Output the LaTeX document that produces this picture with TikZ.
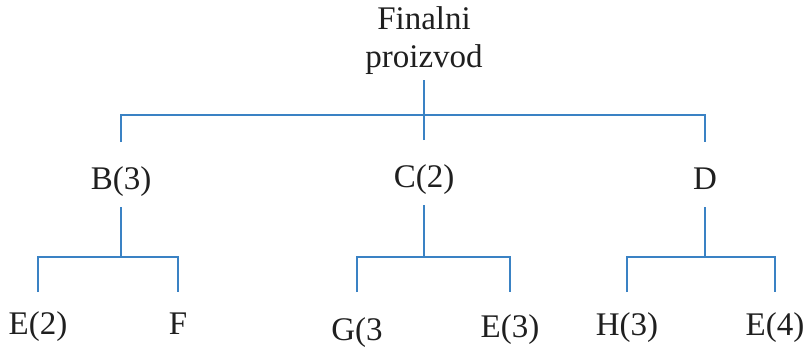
\documentclass[tikz,border=0pt]{standalone}
\usepackage{fontspec}
\setmainfont{Liberation Serif}
\usepackage{tikz}
\definecolor{treeblue}{RGB}{58,130,196}

\begin{document}
\begin{tikzpicture}[x=1pt, y=-1pt,
    font={\fontsize{33}{38}\selectfont}, text=black!88,
    branch/.style={draw=treeblue, line width=2.5pt},
    part/.style={anchor=north, inner ysep=12pt, inner xsep=0pt,
                 text height=35pt, text depth=6pt},
    leaf/.style={anchor=north, inner ysep=0pt, inner xsep=0pt,
                 text height=42pt, text depth=6pt}]
  \useasboundingbox (0,0) rectangle (809,346);
  % top
  \node[anchor=south, align=center, inner sep=0pt, text depth=12pt]
    (root) at (424,80) {Finalni\\proizvod};
  % second level
  \node[part] (B) at (121,142) {B(3)};
  \node[part] (C) at (424,140) {C(2)};
  \node[part] (D) at (705,142) {D};
  % leaves
  \node[leaf] (E2) at (38,292) {E(2)};
  \node[leaf] (F)  at (178,292) {F};
  \node[leaf, text height=48pt] (G3) at (357,292) {G(3};
  \node[leaf, text height=45pt] (E3) at (510,292) {E(3)};
  \node[leaf, text height=43pt] (H3) at (627,292) {H(3)};
  \node[leaf, text height=43pt] (E4) at (775,292) {E(4)};
  % bars
  \coordinate (topbar) at (0,115);
  \coordinate (Bbar) at (0,257);
  \coordinate (Cbar) at (0,257);
  \coordinate (Dbar) at (0,257);
  % connectors
  \draw[branch] (root.south) -- (root.south |- topbar);
  \draw[branch] (B.north) -- (B.north |- topbar) -- (D.north |- topbar) -- (D.north);
  \draw[branch] (C.north) -- (C.north |- topbar);
  \draw[branch] (B.south) -- (B.south |- Bbar);
  \draw[branch] (E2.north) -- (E2.north |- Bbar) -- (F.north |- Bbar) -- (F.north);
  \draw[branch] (C.south) -- (C.south |- Cbar);
  \draw[branch] (G3.north) -- (G3.north |- Cbar) -- (E3.north |- Cbar) -- (E3.north);
  \draw[branch] (D.south) -- (D.south |- Dbar);
  \draw[branch] (H3.north) -- (H3.north |- Dbar) -- (E4.north |- Dbar) -- (E4.north);
\end{tikzpicture}
\end{document}
